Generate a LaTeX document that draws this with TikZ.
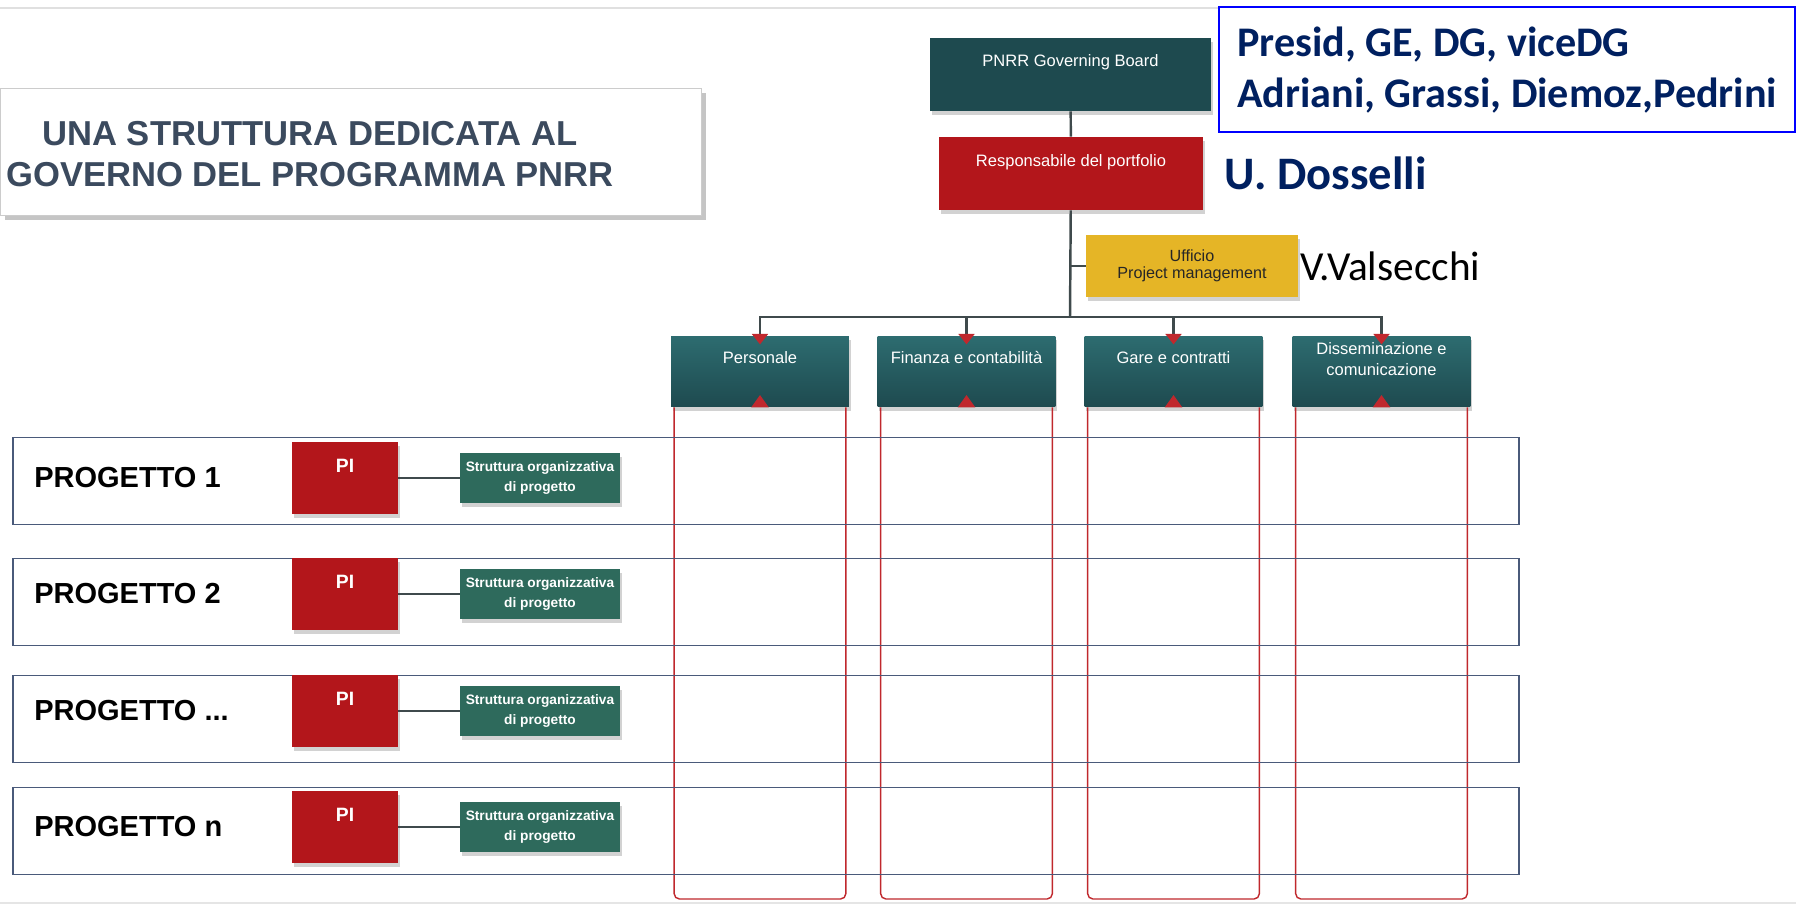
\documentclass[tikz,border=0pt]{standalone}
\usepackage{fontspec}
\setmainfont{Liberation Sans}
\newfontfamily\calibri{Carlito}
\usetikzlibrary{arrows.meta,shadows,positioning}

\definecolor{tealdark}{HTML}{1E4A4F}
\definecolor{teallight}{HTML}{2D6C70}
\definecolor{pnrrred}{HTML}{B3161B}
\definecolor{pmyellow}{HTML}{E5B526}
\definecolor{strgreen}{HTML}{2E6A5C}
\definecolor{rowblue}{HTML}{4A5A7A}
\definecolor{colred}{HTML}{C0282D}
\definecolor{navy}{HTML}{002060}
\definecolor{titlegray}{HTML}{3B4A5E}
\definecolor{conngray}{HTML}{3F4A4C}

\tikzset{
  boxshadow/.style={drop shadow={shadow xshift=1pt,shadow yshift=-2.5pt,opacity=0.35}},
  boxtext/.style={text=white,font=\fontsize{9.4}{11.7}\selectfont,align=center,inner sep=0pt},
  boardbox/.style={fill=tealdark,boxshadow,minimum width=5.62cm,minimum height=1.46cm},
  redbox/.style={fill=pnrrred,boxshadow,minimum width=5.28cm,minimum height=1.46cm},
  pmbox/.style={fill=pmyellow,boxshadow,minimum width=4.24cm,minimum height=1.24cm,
    align=center,text=black!85,font=\fontsize{9.2}{10}\selectfont},
  deptbox/.style={top color=teallight,bottom color=tealdark,boxshadow,
    minimum width=3.56cm,minimum height=1.42cm},
  colline/.style={draw=colred,line width=0.8pt,rounded corners=3pt},
  rowbox/.style={draw=rowblue,line width=1.1pt,minimum width=30.12cm,minimum height=1.74cm},
  projtext/.style={font=\fontsize{16.5}{18}\selectfont\bfseries,inner sep=0pt},
  pibox/.style={fill=pnrrred,boxshadow,minimum width=2.12cm,minimum height=1.44cm},
  strbox/.style={fill=strgreen,boxshadow,minimum width=3.2cm,minimum height=1cm,
    text=white,align=center,font=\fontsize{7.8}{11.5}\selectfont\bfseries},
  conn/.style={draw=conngray,line width=1.4pt},
  drop/.style={conn,-{Triangle[color=colred,length=6pt,width=9pt]},shorten >=-5pt},
  namebox/.style={draw=blue,line width=1.4pt,fill=white,text=navy,align=left,
    minimum width=11.52cm,inner xsep=0.15cm,minimum height=2.5cm,
    font=\calibri\fontsize{24}{29}\selectfont\bfseries},
}

\begin{document}
\begin{tikzpicture}[x=0.02cm,y=-0.02cm]
\useasboundingbox[fill=white] (0,0) rectangle (1796,908);

% header and footer lines
\draw[black!12,line width=1.6pt] (0,8) -- (1600,8);
\draw[black!10,line width=1.6pt] (0,903) -- (1796,903);

% title
\node[draw=black!20,fill=white,minimum width=14.02cm,minimum height=2.54cm,
  drop shadow={shadow xshift=3pt,shadow yshift=-3pt,opacity=0.45}] (title) at (350.5,151.5) {};
\node[text=titlegray,font=\fontsize{19.7}{23}\selectfont\bfseries,align=center] (titletext) at (310,154)
  {UNA STRUTTURA DEDICATA AL\\GOVERNO DEL PROGRAMMA PNRR};

% governance
\node[boardbox,label={[boxtext,anchor=center,yshift=-14.2pt]north:PNRR Governing Board}] (board) at (1070.5,74.5) {};
\node[redbox,label={[boxtext,anchor=center,yshift=-14.7pt]north:Responsabile del portfolio}] (resp) at (1071,173.5) {};
\node[pmbox] (uff) at (1192,266) {Ufficio\\Project management};
\node[namebox,anchor=north west] (names) at (1218,6) {Presid, GE, DG, viceDG\\Adriani, Grassi, Diemoz,Pedrini};
\node[text=navy,font=\calibri\fontsize{26.5}{30}\selectfont\bfseries,inner sep=0pt,right=0.42cm of resp] (resname) {U. Dosselli};
\node[font=\calibri\fontsize{23.5}{26}\selectfont,inner sep=0pt,right=1pt of uff] (pmname) {V.Valsecchi};

\coordinate (br) at (1070,317);
\coordinate (bot) at (0,899);
\draw[conn] (board) -- (resp);
\draw[conn] (resp) -- (br);
\draw[conn] (resp.south |- uff) -- (uff);

% departments
\foreach \k/\xc/\dy/\txt in {1/760/12.5/Personale, 2/966.5/12.5/Finanza e contabilità,
    3/1173.5/12.5/Gare e contratti, 4/1381.5/13.3/{Disseminazione e\\comunicazione}}{
  \node[deptbox,label={[boxtext,anchor=center,yshift=-\dy pt]north:\txt}] (d\k) at (\xc,371.5) {};
  \draw[colline] ([xshift=2pt]d\k.south west) |- (d\k.south |- bot) -| ([xshift=-2pt]d\k.south east);
  \fill[colred] ([xshift=-5pt]d\k.south) -- ([xshift=5pt]d\k.south) -- ([yshift=7pt]d\k.south) -- cycle;
  \draw[drop] (br) -| (d\k.north);
}

% projects
\foreach \r/\yr/\yc/\nm in {1/481/478/1, 2/602/594/2, 3/719/711/{.{}.{}.}, 4/831/827/n}{
  \node[rowbox] (row\r) at (766,\yr) {};
  \node[projtext,anchor=west] (prj\r) at (34,\yc) {PROGETTO \nm};
  \node[pibox,label={[boxtext,font=\fontsize{11}{12}\selectfont\bfseries,anchor=center,yshift=-13.6pt]north:PI}] (pi\r) at (345,\yc) {};
  \node[strbox] (st\r) at (540,\yc) {Struttura organizzativa\\di progetto};
  \draw[conn,line width=1.1pt] (pi\r) -- (st\r);
}
\end{tikzpicture}
\end{document}
